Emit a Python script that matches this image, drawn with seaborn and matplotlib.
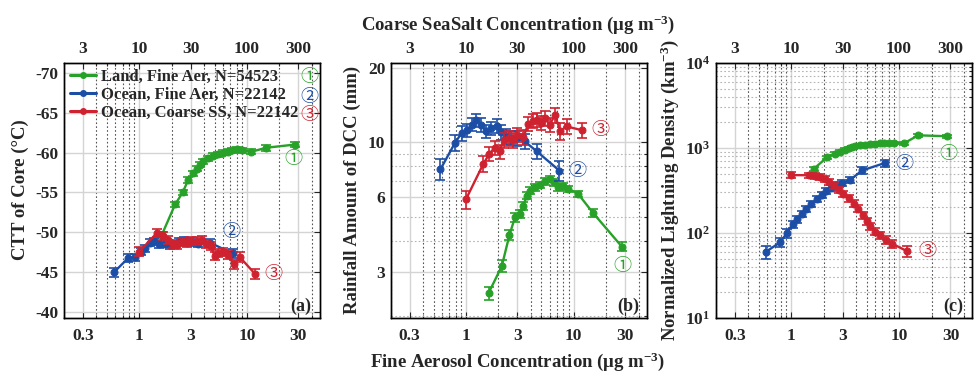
import numpy as np
import matplotlib
matplotlib.use("Agg")
import matplotlib.pyplot as plt
from matplotlib.lines import Line2D
from matplotlib.ticker import FixedLocator, LogLocator, FuncFormatter, NullFormatter
import seaborn as sns

sns.set_style("white")
plt.rcParams["font.family"] = ["Liberation Serif", "DejaVu Serif"]
plt.rcParams["font.weight"] = "bold"
plt.rcParams["axes.labelweight"] = "bold"
plt.rcParams["axes.unicode_minus"] = False
plt.rcParams["mathtext.fontset"] = "custom"
plt.rcParams["mathtext.rm"] = "Liberation Serif:bold"
plt.rcParams["mathtext.bf"] = "Liberation Serif:bold"
plt.rcParams["mathtext.it"] = "Liberation Serif:bold:italic"
plt.rcParams["mathtext.default"] = "rm"

# x values: fine aerosol (green, blue) and coarse sea salt (red, top axis)
fine_green = [1.62, 2.15, 2.53, 2.85, 3.17, 3.41, 3.66, 3.93, 4.37, 4.85, 5.4, 6.0, 6.6, 7.2, 8.0, 8.9, 11.0, 15.1, 28.0]
fine_blue = [0.58, 0.79, 0.91, 1.03, 1.13, 1.25, 1.38, 1.53, 1.72, 1.92, 2.12, 2.35, 2.62, 2.95, 3.5, 4.55, 7.35]
coarse_red = [10, 14.5, 16.5, 18.5, 20.5, 22.5, 25, 27.5, 30, 34, 38, 42, 46, 50, 54, 60, 67, 75, 86, 119]

# (a) CTT of core
ctt_green = [-49.7, -53.5, -55.0, -56.6, -57.4, -58.0, -58.5, -58.9, -59.3, -59.6, -59.8, -60.0, -60.1, -60.3, -60.4, -60.3, -60.1, -60.6, -61.0]
ctt_blue = [-45.0, -46.8, -46.9, -47.6, -48.0, -48.7, -48.9, -48.5, -48.6, -48.4, -48.5, -48.9, -49.0, -48.8, -48.6, -48.7, -47.4]
ctt_red = [-47.6, -49.9, -49.6, -49.1, -48.6, -48.4, -48.8, -48.7, -48.9, -48.9, -49.0, -48.6, -48.3, -47.1, -47.4, -47.6, -47.2, -46.0, -46.9, -44.8]
ctt_green_err = [0.35, 0.35, 0.35, 0.35, 0.3, 0.3, 0.3, 0.3, 0.3, 0.3, 0.3, 0.3, 0.3, 0.3, 0.3, 0.3, 0.3, 0.35, 0.35]
ctt_blue_err = [0.55, 0.45, 0.45, 0.45, 0.45, 0.45, 0.45, 0.45, 0.45, 0.45, 0.45, 0.45, 0.45, 0.45, 0.45, 0.5, 0.55]
ctt_red_err = [0.6, 0.5, 0.5, 0.5, 0.5, 0.5, 0.5, 0.5, 0.5, 0.5, 0.5, 0.5, 0.5, 0.5, 0.5, 0.5, 0.55, 0.55, 0.6, 0.6]

# (b) rainfall amount
rain_green = [2.47, 3.17, 4.23, 4.99, 5.14, 5.56, 6.1, 6.4, 6.6, 6.75, 6.96, 7.14, 6.9, 6.6, 6.65, 6.5, 6.2, 5.2, 3.8]
rain_blue = [7.8, 9.95, 10.9, 11.2, 11.8, 12.3, 11.8, 11.1, 11.4, 11.7, 11.0, 10.6, 10.45, 10.4, 10.1, 9.2, 7.7]
rain_red = [5.9, 8.2, 9.0, 9.5, 9.2, 10.2, 10.4, 10.2, 10.7, 10.5, 11.9, 12.2, 12.3, 12.0, 12.5, 11.8, 12.9, 11.1, 11.6, 11.2]
rain_green_err = [0.15, 0.18, 0.2, 0.2, 0.2, 0.2, 0.2, 0.2, 0.2, 0.2, 0.2, 0.2, 0.2, 0.2, 0.2, 0.2, 0.2, 0.18, 0.16]
rain_blue_err = [0.75, 0.75, 0.75, 0.7, 0.7, 0.75, 0.75, 0.7, 0.7, 0.75, 0.75, 0.7, 0.7, 0.7, 0.7, 0.65, 0.7]
rain_red_err = [0.5, 0.6, 0.6, 0.6, 0.6, 0.7, 0.7, 0.7, 0.7, 0.7, 0.8, 0.8, 0.8, 0.8, 0.9, 0.8, 0.9, 0.9, 0.8, 0.8]

# (c) normalized lightning density
light_green = [570, 780, 860, 900, 955, 990, 1025, 1050, 1076, 1090, 1110, 1127, 1135, 1140, 1150, 1145, 1130, 1410, 1375]
light_blue = [60, 78, 100, 128, 146, 168, 192, 220, 250, 278, 310, 340, 365, 385, 420, 545, 665]
light_red = [480, 478, 470, 455, 430, 400, 360, 320, 290, 255, 222, 194, 162, 137, 120, 104, 94, 83, 75, 61]
light_green_err = [30, 35, 35, 35, 35, 40, 40, 40, 40, 40, 40, 40, 40, 40, 40, 40, 45, 55, 60]
light_blue_err = [10, 10, 12, 12, 14, 15, 17, 18, 20, 22, 24, 25, 28, 30, 35, 45, 60]
light_red_err = [35, 35, 35, 35, 35, 35, 30, 28, 25, 22, 20, 18, 15, 13, 12, 10, 9, 8, 8, 9]

legend_labels = ["Land, Fine Aer, N=54523", "Ocean, Fine Aer, N=22142", "Ocean, Coarse SS, N=22142"]
circled = ["\u2460", "\u2461", "\u2462"]
bottom_ticks = [0.3, 1, 3, 10, 30]
top_ticks = [3, 10, 30, 100, 300]

GREEN = "#27a127"
BLUE = "#1d4ea6"
RED = "#cf2230"
colors = [GREEN, BLUE, RED]

fig = plt.figure(figsize=(9.75, 3.75), dpi=100)
lefts = [0.0656, 0.4007, 0.7344]
W, B, H = 0.263, 0.152, 0.68

fmt_g = FuncFormatter(lambda v, p: "%g" % v)
fmt_pow = FuncFormatter(lambda v, p: "10$^{%d}$" % round(np.log10(v)))


def draw(ax, x, y, err, color):
    sns.lineplot(x=x, y=y, ax=ax, color=color, marker="o", markersize=5,
                 mec=color, linewidth=1.7, sort=False, estimator=None, legend=False)
    ax.errorbar(x, y, yerr=err, fmt="none", ecolor=color, elinewidth=1.2,
                capsize=3.6, capthick=1.2)


panels = [
    (ctt_green, ctt_blue, ctt_red, ctt_green_err, ctt_blue_err, ctt_red_err),
    (rain_green, rain_blue, rain_red, rain_green_err, rain_blue_err, rain_red_err),
    (light_green, light_blue, light_red, light_green_err, light_blue_err, light_red_err),
]
letters = ["(a)", "(b)", "(c)"]
ylabels = ["CTT of Core (\u00b0C)", "Rainfall Amount of DCC (mm)",
           "Normalized Lightning Density (km$^{-3}$)"]
ylabel_x = [20, 352, 670]
# label positions of the numbers in data units (fine-aerosol x)
num_pos = [
    [(26.7, -59.2), (7.2, -50.1), (17.5, -44.8)],
    [(28.2, 3.19), (10.8, 7.65), (17.8, 11.2)],
    [(28.7, 860), (11.1, 655), (18.3, 61)],
]

for i, (yg, yb, yr, eg, eb, er) in enumerate(panels):
    ax = fig.add_axes([lefts[i], B, W, H])
    ax.set_xscale("log")
    ax.set_xlim(0.2, 48)
    if i == 0:
        ax.set_ylim(-39.3, -71.2)
        ax.yaxis.set_major_locator(FixedLocator([-70, -65, -60, -55, -50, -45, -40]))
    elif i == 1:
        ax.set_yscale("log")
        ax.set_ylim(1.96, 20.9)
        ax.yaxis.set_major_locator(FixedLocator([3, 6, 10, 20]))
        ax.yaxis.set_major_formatter(fmt_g)
        ax.yaxis.set_minor_locator(LogLocator(subs=np.arange(2, 10)))
        ax.yaxis.set_minor_formatter(NullFormatter())
    else:
        ax.set_yscale("log")
        ax.set_ylim(10, 1e4)
        ax.yaxis.set_major_locator(FixedLocator([10, 100, 1000, 10000]))
        ax.yaxis.set_major_formatter(fmt_pow)
        ax.yaxis.set_minor_locator(LogLocator(subs=np.arange(2, 10)))
        ax.yaxis.set_minor_formatter(NullFormatter())
    ax.xaxis.set_major_locator(FixedLocator(bottom_ticks))
    ax.xaxis.set_major_formatter(fmt_g)
    ax.xaxis.set_minor_locator(LogLocator(subs=np.arange(2, 10)))
    ax.xaxis.set_minor_formatter(NullFormatter())

    ax.set_axisbelow(True)
    ax.grid(which="major", color="#d4d4d4", linewidth=1.0, linestyle="-")
    ax.grid(which="minor", axis="x", color="#555555", linewidth=0.8, linestyle=(0, (1.5, 2)))
    if i > 0:
        ax.grid(which="minor", axis="y", color="#b5b5b5", linewidth=0.8, linestyle=(0, (1.5, 2)))

    ax.tick_params(axis="both", which="both", direction="in", right=True, top=False,
                   labelsize=12.5, width=0.8)
    ax.tick_params(axis="both", which="major", length=4)
    ax.tick_params(axis="both", which="minor", length=2)
    ax.tick_params(axis="x", pad=7)
    ax.tick_params(axis="y", pad=4)

    draw(ax, fine_green, yg, eg, GREEN)
    draw(ax, fine_blue, yb, eb, BLUE)

    ax2 = ax.twiny()
    ax2.set_xscale("log")
    ax2.set_xlim(2, 480)
    ax2.xaxis.set_major_locator(FixedLocator(top_ticks))
    ax2.xaxis.set_major_formatter(fmt_g)
    ax2.xaxis.set_minor_locator(LogLocator(subs=np.arange(2, 10)))
    ax2.xaxis.set_minor_formatter(NullFormatter())
    ax2.tick_params(axis="x", which="both", direction="in", labelsize=12.5, width=0.8, pad=4)
    ax2.tick_params(axis="x", which="major", length=4)
    ax2.tick_params(axis="x", which="minor", length=2)
    draw(ax2, coarse_red, yr, er, RED)
    ax2.set_xlabel("")
    ax2.set_ylabel("")
    ax.set_xlabel("")
    ax.set_ylabel("")

    for a in (ax, ax2):
        for s in a.spines.values():
            s.set_color("black")
            s.set_linewidth(1.0)

    for k in range(3):
        ax.text(num_pos[i][k][0], num_pos[i][k][1], circled[k], color=colors[k],
                fontsize=13, fontweight="normal", ha="center", va="center",
                family=["Noto Sans CJK JP", "DejaVu Sans"], zorder=10)

    ax2.text(0.925, 0.045, letters[i], transform=ax.transAxes, fontsize=13,
             fontweight="bold", ha="center", va="center")

    fig.text(ylabel_x[i] / 975, 1 - 190 / 375, ylabels[i], rotation=90,
             ha="center", va="center", fontsize=13.5, fontweight="bold")

    if i == 0:
        handles = [Line2D([], [], color=c, marker="o", markersize=4, linewidth=2.2) for c in colors]
        ax2.legend(handles, legend_labels, loc="upper left", bbox_to_anchor=(0.0, 1.0),
                   frameon=False, fontsize=12, handlelength=1.6, handletextpad=0.3,
                   labelspacing=0.12, borderaxespad=0.1, borderpad=0.25)
        for k in range(3):
            ax2.text(0.957, [0.946, 0.868, 0.796][k], circled[k], color=colors[k],
                     transform=ax.transAxes, fontsize=13, fontweight="normal",
                     ha="center", va="center", family=["Noto Sans CJK JP", "DejaVu Sans"])

fig.text(518 / 975, 1 - 25 / 375, "Coarse SeaSalt Concentration (\u03bcg m$^{-3}$)",
         ha="center", va="center", fontsize=13.5, fontweight="bold")
fig.text(518 / 975, 1 - 362 / 375, "Fine Aerosol Concentration (\u03bcg m$^{-3}$)",
         ha="center", va="center", fontsize=13.5, fontweight="bold")

fig.savefig("out.png", dpi=100)
